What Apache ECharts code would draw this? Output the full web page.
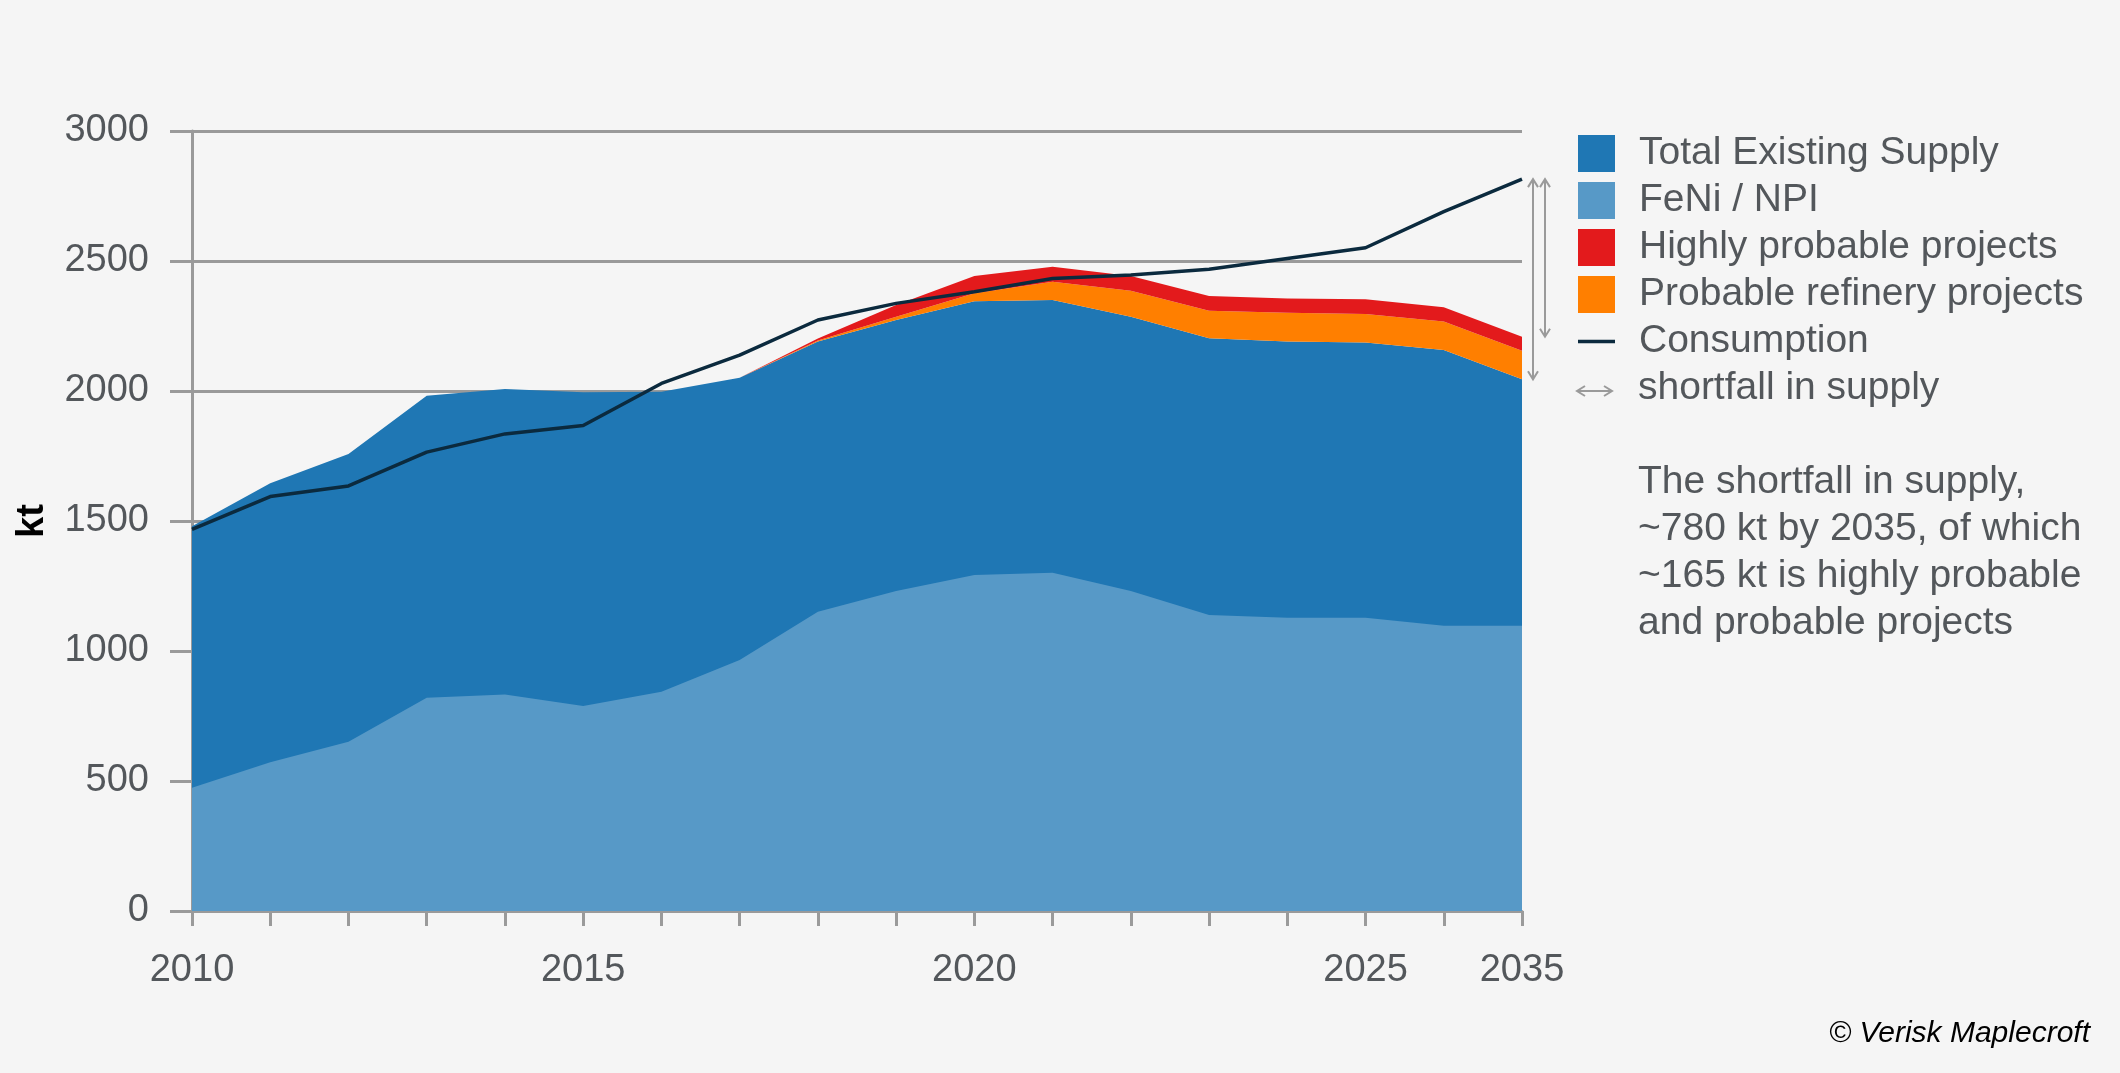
<!DOCTYPE html>
<html><head><meta charset="utf-8">
<script src="https://cdn.jsdelivr.net/npm/echarts@6/dist/echarts.min.js"></script>
<style>html,body{margin:0;padding:0;background:#f5f5f5}#c{width:2120px;height:1073px}</style>
</head><body><div id="c"></div>
<script>
const years = ['2010','2011','2012','2013','2014','2015','2016','2017','2018','2019','2020','2021','2022','2023','2024','2025','2026','2035'];
const shownYearLabels = ['2010','2015','2020','2025','2035'];
const totalExisting = [1480,1645,1758,1982,2008,1995,1997,2051,2190,2273,2345,2350,2286,2203,2190,2187,2158,2045];
const feniNpi = [474,572,651,820,833,788,843,965,1151,1231,1292,1301,1231,1138,1128,1128,1097,1097];
const probableRefinery = [0,0,0,0,0,0,0,0,4,13,31,70,100,106,111,109,109,110];
const highlyProbable = [0,0,0,0,0,0,0,0,8,45,66,58,56,56,55,57,55,54];
const consumption = [1468,1594,1635,1765,1835,1867,2029,2138,2273,2337,2382,2433,2446,2468,2510,2551,2690,2815];
const yTicks = [0,500,1000,1500,2000,2500,3000];
const noteLines = ['The shortfall in supply,','~780 kt by 2035, of which','~165 kt is highly probable','and probable projects'];

const FONT = '"Liberation Sans", Arial, sans-serif';
const TXT = '#53575b';
const AX = '#9a9a9a';
const C_TOTAL = '#1f77b4', C_FENI = '#5799c7', C_RED = '#e31a1c', C_ORANGE = '#ff7f00', C_CONS = '#0b2a3e';

const chart = echarts.init(document.getElementById('c'), null, {renderer:'canvas'});

function area(name, data, color, stack, z) {
  return {
    name, type:'line', data, stack, z,
    symbol:'none', showSymbol:false, smooth:false,
    lineStyle:{width:0, color},
    itemStyle:{color},
    areaStyle:{color, opacity:1},
    emphasis:{disabled:true}
  };
}

const option = {
  backgroundColor:'#f5f5f5',
  animation:false,
  textStyle:{fontFamily:FONT},
  grid:{left:192, right:598, top:131, bottom:162, containLabel:false},
  legend:{
    orient:'vertical', left:1573, top:129, selectedMode:false,
    itemWidth:37, itemHeight:37, itemGap:8,
    textStyle:{fontSize:39, color:TXT, fontFamily:FONT, padding:[0,0,0,19]},
    data:[
      {name:'Total Existing Supply', icon:'rect'},
      {name:'FeNi / NPI', icon:'rect'},
      {name:'Highly probable projects', icon:'rect'},
      {name:'Probable refinery projects', icon:'rect'},
      {name:'Consumption', icon:'path://M0,0 L100,0 L100,10 L0,10 Z'}
    ]
  },
  xAxis:{
    type:'category', data:years, boundaryGap:false,
    axisLine:{lineStyle:{color:AX, width:3}},
    axisTick:{show:true, interval:0, length:15, lineStyle:{color:AX, width:3}},
    axisLabel:{
      interval:0, margin:41, fontSize:38, color:TXT, fontFamily:FONT,
      formatter:(v)=> shownYearLabels.includes(v) ? v : ''
    },
    splitLine:{show:false}
  },
  yAxis:{
    type:'value', min:yTicks[0], max:yTicks[yTicks.length-1], interval:500,
    name:'kt', nameLocation:'middle', nameGap:140,
    nameTextStyle:{fontSize:38, fontWeight:'bold', color:'#000', fontFamily:FONT},
    axisLine:{show:true, lineStyle:{color:AX, width:3}},
    axisTick:{show:true, length:22, lineStyle:{color:AX, width:3}},
    axisLabel:{margin:43, fontSize:38, color:TXT, fontFamily:FONT, formatter:(v)=>String(v)},
    splitLine:{show:true, lineStyle:{color:AX, width:3}}
  },
  series:[
    area('Total Existing Supply', totalExisting, C_TOTAL, 'supply', 2),
    area('Probable refinery projects', probableRefinery, C_ORANGE, 'supply', 2),
    area('Highly probable projects', highlyProbable, C_RED, 'supply', 2),
    area('FeNi / NPI', feniNpi, C_FENI, null, 3),
    {
      name:'Consumption', type:'line', data:consumption, z:5,
      symbol:'none', showSymbol:false,
      lineStyle:{color:C_CONS, width:3.5},
      itemStyle:{color:C_CONS},
      emphasis:{disabled:true}
    }
  ]
};
chart.setOption(option);

// shortfall arrows, placed through the chart's own scales
const last = years.length - 1;
const pCons = chart.convertToPixel({gridIndex:0}, [last, consumption[last]]);
const pTotal = chart.convertToPixel({gridIndex:0}, [last, totalExisting[last]]);
const pTop = chart.convertToPixel({gridIndex:0}, [last, totalExisting[last]+probableRefinery[last]+highlyProbable[last]]);

function vArrow(x, y1, y2) {
  const s = {stroke:'#9a9a9a', lineWidth:2, fill:null};
  return {type:'group', children:[
    {type:'line', shape:{x1:x, y1:y1, x2:x, y2:y2}, style:s},
    {type:'polyline', shape:{points:[[x-5,y1+8],[x,y1],[x+5,y1+8]]}, style:s},
    {type:'polyline', shape:{points:[[x-5,y2-8],[x,y2],[x+5,y2-8]]}, style:s}
  ]};
}
function hArrow(x1, x2, y) {
  const s = {stroke:'#9a9a9a', lineWidth:2, fill:null};
  return {type:'group', children:[
    {type:'line', shape:{x1:x1, y1:y, x2:x2, y2:y}, style:s},
    {type:'polyline', shape:{points:[[x1+8,y-5],[x1,y],[x1+8,y+5]]}, style:s},
    {type:'polyline', shape:{points:[[x2-8,y-5],[x2,y],[x2-8,y+5]]}, style:s}
  ]};
}

chart.setOption({
  graphic:[
    vArrow(pCons[0]+11, pCons[1], pTotal[1]),
    vArrow(pCons[0]+23, pCons[1], pTop[1]),
    hArrow(1577, 1612, 391),
    {type:'text', x:1638, y:388, style:{text:'shortfall in supply', font:'39px '+FONT, fill:TXT, verticalAlign:'middle'}},
    {type:'text', x:1638, y:459, style:{text:noteLines.join('\n'), font:'39px '+FONT, fill:TXT, lineHeight:47}},
    {type:'text', x:2090, y:1034, style:{text:'© Verisk Maplecroft', font:'italic 30px '+FONT, fill:'#000', align:'right', verticalAlign:'middle'}}
  ]
});
</script>
</body></html>
